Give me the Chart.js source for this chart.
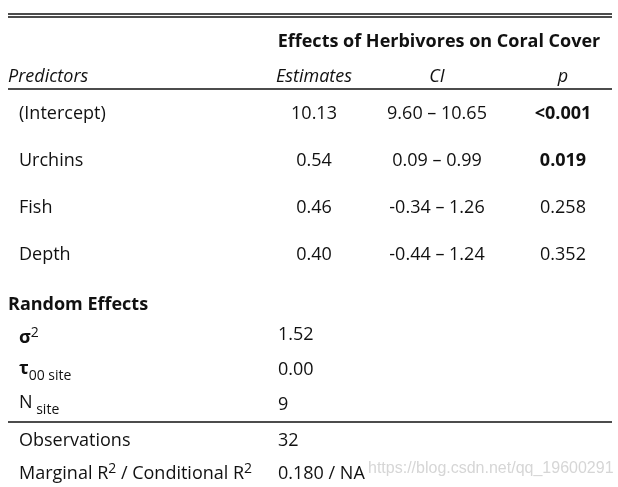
<!DOCTYPE html>
<html>
<head>
<meta charset="utf-8">
<script src="https://cdn.jsdelivr.net/npm/chart.js@4"></script>
<style>
  body { margin: 0; background: #fff; }
  canvas { display: block; }
</style>
</head>
<body>
<canvas id="table" width="618" height="487"></canvas>
<script>
// table content
const title = 'Effects of Herbivores on Coral Cover';
const headers = ['Predictors', 'Estimates', 'CI', 'p'];
const predictors = ['(Intercept)', 'Urchins', 'Fish', 'Depth'];
const estimates = ['10.13', '0.54', '0.46', '0.40'];
const ciRanges = ['9.60 – 10.65', '0.09 – 0.99', '-0.34 – 1.26', '-0.44 – 1.24'];
const pValues = ['<0.001', '0.019', '0.258', '0.352'];
const pBold = [true, true, false, false];
const randomTitle = 'Random Effects';
const randomLabels = ['σ^{2}', 'τ_{00 site}', 'N_{ site}'];
const randomValues = ['1.52', '0.00', '9'];
const fitLabels = ['Observations', 'Marginal R^{2} / Conditional R^{2}'];
const fitValues = ['32', '0.180 / NA'];
const watermark = 'https://blog.csdn.net/qq_19600291';

// layout (pixel-like units on the hidden scales)
const FONT = '"Open Sans", sans-serif';
const BODY = 18;
const colX = { left: 8, label: 19, est: 314, ci: 437, p: 563, value: 278, title: 439, right: 612 };
const titleY = 42, headerY = 77, randomTitleY = 305;
const fixedRowY = [114, 161, 208, 255];
const randomLabelY = [338, 369, 403];
const randomValueY = [335, 370, 405];
const fitRowY = [441, 474];

function cell(x, y, text, opts = {}) {
  return Object.assign({ x, y, text, size: BODY, weight: 'normal', style: 'normal', align: 'center', color: '#111', firstBold: false }, opts);
}

const cells = [];
cells.push(cell(colX.title, titleY, title, { weight: 'bold' }));
cells.push(cell(colX.left, headerY, headers[0], { style: 'italic', align: 'left' }));
cells.push(cell(colX.est, headerY, headers[1], { style: 'italic' }));
cells.push(cell(colX.ci, headerY, headers[2], { style: 'italic' }));
cells.push(cell(colX.p, headerY, headers[3], { style: 'italic' }));
predictors.forEach((p, i) => {
  cells.push(cell(colX.label, fixedRowY[i], p, { align: 'left' }));
  cells.push(cell(colX.est, fixedRowY[i], estimates[i]));
  cells.push(cell(colX.ci, fixedRowY[i], ciRanges[i]));
  cells.push(cell(colX.p, fixedRowY[i], pValues[i], { weight: pBold[i] ? 'bold' : 'normal' }));
});
cells.push(cell(colX.left, randomTitleY, randomTitle, { weight: 'bold', align: 'left' }));
randomLabels.forEach((l, i) => {
  cells.push(cell(colX.label, randomLabelY[i], l, { align: 'left', firstBold: i < 2 }));
  cells.push(cell(colX.value, randomValueY[i], randomValues[i], { align: 'left' }));
});
fitLabels.forEach((l, i) => {
  cells.push(cell(colX.label, fitRowY[i], l, { align: 'left' }));
  cells.push(cell(colX.value, fitRowY[i], fitValues[i], { align: 'left' }));
});
cells.push(cell(368, 469, watermark, { align: 'left', size: 16, color: '#d6d6d6', family: '"Liberation Sans", Arial, sans-serif' }));

function rule(y, width) {
  return {
    type: 'line', data: [{ x: colX.left, y }, { x: colX.right, y }],
    borderColor: '#111', borderWidth: width, pointRadius: 0, showLine: true
  };
}

// split "a^{b}c_{d}" into styled pieces
function pieces(text) {
  return text.split(/(\^\{[^}]*\}|_\{[^}]*\})/).filter(s => s).map(s => {
    if (s.startsWith('^{')) return { t: s.slice(2, -1), kind: 'sup' };
    if (s.startsWith('_{')) return { t: s.slice(2, -1), kind: 'sub' };
    return { t: s, kind: 'base' };
  });
}

const textPlugin = {
  id: 'cellText',
  afterDatasetsDraw(chart) {
    const ctx = chart.ctx;
    const meta = chart.getDatasetMeta(0);
    const data = chart.data.datasets[0].data;
    ctx.save();
    ctx.textBaseline = 'middle';
    data.forEach((c, i) => {
      const el = meta.data[i];
      const fam = c.family || FONT;
      const parts = pieces(c.text).map((p, k) => {
        const sz = p.kind === 'base' ? c.size : Math.round(c.size * 0.75);
        const weight = (c.firstBold && k === 0) ? 'bold' : c.weight;
        const font = `${c.style} ${weight} ${sz}px ${fam}`;
        ctx.font = font;
        return Object.assign(p, { font, w: ctx.measureText(p.t).width, off: p.kind === 'sup' ? -c.size * 0.3 : p.kind === 'sub' ? c.size * 0.4 : 0 });
      });
      const total = parts.reduce((s, p) => s + p.w, 0);
      let x = c.align === 'center' ? el.x - total / 2 : el.x;
      ctx.fillStyle = c.color;
      ctx.textAlign = 'left';
      parts.forEach(p => {
        ctx.font = p.font;
        ctx.fillText(p.t, x, el.y + p.off);
        x += p.w;
      });
    });
    ctx.restore();
  }
};

new Chart(document.getElementById('table'), {
  type: 'scatter',
  data: {
    datasets: [
      { data: cells, pointRadius: 0, showLine: false },
      rule(14, 1.3), rule(17, 1.3), rule(89, 1.3), rule(422, 1.3)
    ]
  },
  options: {
    responsive: false,
    animation: false,
    events: [],
    layout: { padding: 0 },
    scales: {
      x: { type: 'linear', min: 0, max: 618, display: false },
      y: { type: 'linear', min: 0, max: 487, reverse: true, display: false }
    },
    plugins: { legend: { display: false }, tooltip: { enabled: false } }
  },
  plugins: [textPlugin]
});
</script>
</body>
</html>
